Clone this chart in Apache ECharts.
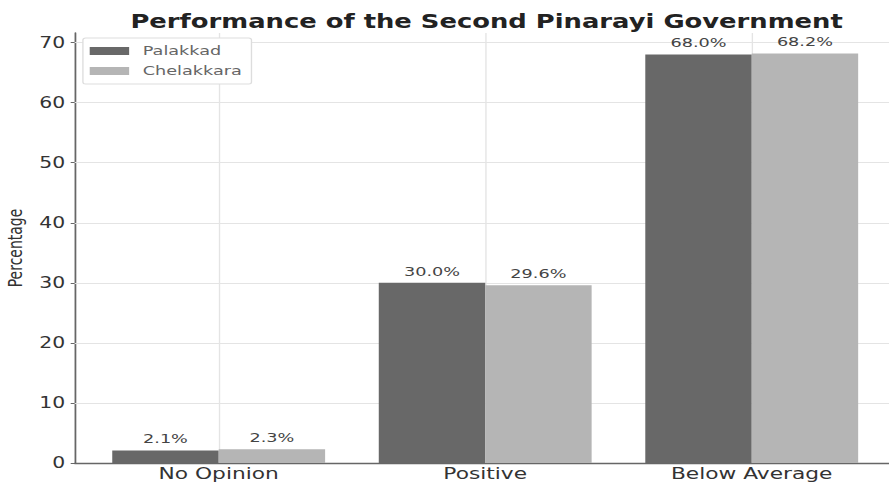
<!DOCTYPE html>
<html>
<head>
<meta charset="utf-8">
<script src="https://cdn.jsdelivr.net/npm/echarts@6/dist/echarts.min.js"></script>
<style>
  html, body { margin: 0; padding: 0; background: #ffffff; overflow: hidden; }
  #wrap { width: 889px; height: 487px; overflow: hidden; }
  /* the figure is laid out narrow and widened to the page width */
  #chart { width: 654px; height: 487px; transform: scaleX(1.3593); transform-origin: 0 0; }
</style>
</head>
<body>
<div id="wrap"><div id="chart"></div></div>
<script>
// Survey responses on the second Pinarayi government, by constituency
const categories = ['No Opinion', 'Positive', 'Below Average'];
const palakkad = [2.1, 30.0, 68.0];
const chelakkara = [2.3, 29.6, 68.2];
const yTicks = [0, 10, 20, 30, 40, 50, 60, 70];

const FONT = 'DejaVu Sans';

function series(name, values, color) {
  return {
    name: name,
    type: 'bar',
    barWidth: 78.3,
    barGap: '0%',
    z: 3,
    itemStyle: { color: color },
    data: values.map((v, i) => [i, v]),
    label: {
      show: true,
      position: 'top',
      distance: 5,
      fontFamily: FONT,
      fontSize: 13,
      color: '#444',
      formatter: p => p.value[1].toFixed(1) + '%'
    }
  };
}

const chart = echarts.init(document.getElementById('chart'), null, { renderer: 'svg' });
chart.setOption({
  backgroundColor: '#ffffff',
  animation: false,
  title: {
    text: 'Performance of the Second Pinarayi Government',
    left: 353,
    textAlign: 'center',
    top: 7,
    textStyle: { fontFamily: FONT, fontWeight: 'bold', fontSize: 19, color: '#222' }
  },
  legend: {
    left: 61,
    top: 38,
    orient: 'vertical',
    icon: 'rect',
    itemWidth: 29,
    itemHeight: 8,
    itemGap: 6,
    padding: [6, 7, 6, 5],
    borderColor: '#dddddd',
    borderWidth: 1,
    borderRadius: 2,
    backgroundColor: '#ffffff',
    textStyle: { fontFamily: FONT, fontSize: 13, lineHeight: 14, color: '#666', padding: [0, 0, 0, 5] },
    data: ['Palakkad', 'Chelakkara']
  },
  grid: { left: 55, right: 0, top: 33, bottom: 24, containLabel: false, outerBoundsMode: 'none' },
  xAxis: {
    type: 'value',
    min: -0.54,
    max: 2.515,
    axisLine: { show: true, onZero: false, lineStyle: { color: '#666', width: 1.3 } },
    axisTick: { show: false },
    splitLine: { show: false },
    axisLabel: {
      customValues: [0, 1, 2],
      formatter: v => categories[Math.round(v)],
      fontFamily: FONT,
      fontSize: 16,
      color: '#333',
      margin: 3
    }
  },
  yAxis: {
    type: 'value',
    min: 0,
    max: 71.6,
    name: 'Percentage',
    nameLocation: 'middle',
    nameGap: 34,
    nameTextStyle: { fontFamily: FONT, fontSize: 14, color: '#333' },
    axisLine: { show: true, onZero: false, lineStyle: { color: '#666', width: 1.3 } },
    axisTick: { show: true, customValues: yTicks, length: 3, lineStyle: { color: '#666' } },
    axisLabel: { customValues: yTicks, fontFamily: FONT, fontSize: 15, color: '#333', margin: 7 },
    splitLine: { show: false }
  },
  series: [
    // light grid lines under the bars
    {
      type: 'line',
      silent: true,
      data: [],
      z: 0,
      markLine: {
        silent: true,
        z: 1,
        symbol: 'none',
        label: { show: false },
        lineStyle: { color: '#e4e4e4', width: 1, type: 'solid' },
        data: yTicks.slice(1).map(t => ({ yAxis: t }))
          .concat([0, 1, 2].map(c => ({ xAxis: c })))
      }
    },
    series('Palakkad', palakkad, '#686868'),
    series('Chelakkara', chelakkara, '#b5b5b5')
  ]
});
</script>
</body>
</html>
